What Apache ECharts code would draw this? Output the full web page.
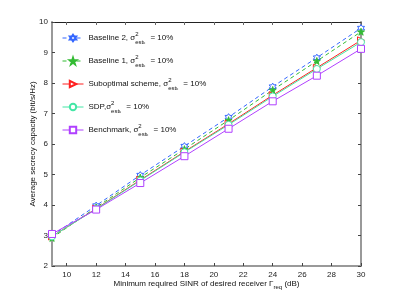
<!DOCTYPE html>
<html><head><meta charset="utf-8">
<script src="https://cdn.jsdelivr.net/npm/echarts@6/dist/echarts.min.js"></script>
<style>html,body{margin:0;padding:0;background:#fff}#c{width:400px;height:300px}</style>
</head><body><div id="c"></div>
<script>
var xValues = [9, 12, 15, 18, 21, 24, 27, 30];
var xTicks = [10, 12, 14, 16, 18, 20, 22, 24, 26, 28, 30];
var yTicks = [2, 3, 4, 5, 6, 7, 8, 9, 10];
var baseline2 = [3.00, 3.98, 4.98, 5.93, 6.88, 7.88, 8.83, 9.80];
var baseline1 = [2.92, 3.92, 4.90, 5.83, 6.78, 7.77, 8.72, 9.68];
var suboptimal = [2.97, 3.88, 4.82, 5.75, 6.66, 7.60, 8.50, 9.40];
var sdp = [2.97, 3.87, 4.80, 5.73, 6.63, 7.56, 8.46, 9.34];
var benchmark = [3.05, 3.85, 4.72, 5.60, 6.50, 7.40, 8.24, 9.12];
var names = ['Baseline 2', 'Baseline 1', 'Suboptimal scheme', 'SDP', 'Benchmark'];

var hexagram = 'path://M0,-10 L2.887,-5 L8.66,-5 L5.774,0 L8.66,5 L2.887,5 L0,10 L-2.887,5 L-8.66,5 L-5.774,0 L-8.66,-5 L-2.887,-5 Z';
var pentagram = 'path://M0,-10 L2.245,-3.09 L9.511,-3.09 L3.633,1.18 L5.878,8.09 L0,3.82 L-5.878,8.09 L-3.633,1.18 L-9.511,-3.09 L-2.245,-3.09 Z';
var font = 'Liberation Sans';

function pairs(arr) { return xValues.map(function (x, i) { return [x, arr[i]]; }); }
function mk(name, data, color, dashed, symbol, fill, rot) {
  return {
    name: name, type: 'line', data: pairs(data), symbol: symbol, symbolSize: 7,
    symbolRotate: rot || 0, showAllSymbol: true,
    lineStyle: { color: color, width: 1, type: dashed ? [4, 3] : 'solid' },
    itemStyle: { color: fill, borderColor: color, borderWidth: 1 },
    emphasis: { disabled: true }, animation: false, z: 3
  };
}
var chart = echarts.init(document.getElementById('c'), null, { renderer: 'canvas' });
var suffix = {
  'Baseline 2': 'Baseline 2, σ', 'Baseline 1': 'Baseline 1, σ',
  'Suboptimal scheme': 'Suboptimal scheme, σ', 'SDP': 'SDP,σ', 'Benchmark': 'Benchmark, σ'
};
chart.setOption({
  animation: false,
  textStyle: { fontFamily: font },
  grid: { left: 52, right: 39, top: 22, bottom: 34 },
  legend: {
    data: names, orient: 'vertical', left: 57, top: 25, itemWidth: 21, itemHeight: 8, itemGap: 8,
    selectedMode: false,
    lineStyle: { width: 1 },
    formatter: function (n) { return '{t|' + suffix[n] + '}{sup|2}{sub|est}{k|k}{t| = 10%}'; },
    textStyle: {
      fontFamily: font, fontSize: 8, color: '#111',
      rich: {
        t: { fontSize: 8, fontFamily: font, color: '#111', lineHeight: 14, verticalAlign: 'middle' },
        sup: { fontSize: 6, fontFamily: font, color: '#111', width: 0, verticalAlign: 'top', lineHeight: 14, padding: [0, 0, 0, 0] },
        sub: { fontSize: 6, fontFamily: font, color: '#111', verticalAlign: 'bottom', lineHeight: 12, padding: [7, 0, 0, 0] },
        k: { fontSize: 4, fontFamily: font, color: '#111', verticalAlign: 'bottom', lineHeight: 10, padding: [11, 3, 0, 0] }
      }
    }
  },
  xAxis: [{
    type: 'value', min: 9, max: 30, position: 'bottom',
    name: '{t|Minimum required SINR of desired receiver Γ}{s|req}{t| (dB)}', nameLocation: 'middle', nameGap: 12,
    nameMoveOverlap: false,
    nameTextStyle: { rich: {
      t: { fontSize: 8, fontFamily: font, color: '#111' },
      s: { fontSize: 6, fontFamily: font, color: '#111', padding: [6, 0, 0, 0] } } },
    axisLine: { lineStyle: { color: '#999', width: 2 } },
    axisTick: { inside: true, length: 3, customValues: xTicks, lineStyle: { color: '#444' } },
    axisLabel: { customValues: xTicks, fontSize: 8, color: '#222', margin: 5, fontFamily: font },
    splitLine: { show: false }
  }, {
    type: 'value', min: 9, max: 30, position: 'top',
    axisLine: { lineStyle: { color: '#222', width: 1 } },
    axisTick: { inside: true, length: 3, customValues: xTicks, lineStyle: { color: '#666' } },
    axisLabel: { show: false }, splitLine: { show: false }
  }],
  yAxis: [{
    type: 'value', min: 2, max: 10, interval: 1, position: 'left',
    name: 'Average secrecy capacity (bit/s/Hz)', nameLocation: 'middle', nameGap: 15,
    nameMoveOverlap: false,
    nameTextStyle: { fontSize: 8, color: '#111', fontFamily: font },
    axisLine: { lineStyle: { color: '#999', width: 2 } },
    axisTick: { inside: true, length: 3, lineStyle: { color: '#444' } },
    axisLabel: { fontSize: 8, color: '#222', margin: 4, fontFamily: font },
    splitLine: { show: false }
  }, {
    type: 'value', min: 2, max: 10, interval: 1, position: 'right',
    axisLine: { lineStyle: { color: '#999', width: 2 } },
    axisTick: { inside: true, length: 3, lineStyle: { color: '#444' } },
    axisLabel: { show: false }, splitLine: { show: false }
  }],
  series: [
    mk('Baseline 2', baseline2, '#3366ff', true, hexagram, '#fff'),
    mk('Baseline 1', baseline1, '#33bb33', true, pentagram, '#33bb33'),
    mk('Suboptimal scheme', suboptimal, '#ff2020', false, 'triangle', '#fff', -90),
    mk('SDP', sdp, '#44e6a6', false, 'circle', '#fff'),
    mk('Benchmark', benchmark, '#b040ff', false, 'rect', '#fff')
  ]
});
</script></body></html>
